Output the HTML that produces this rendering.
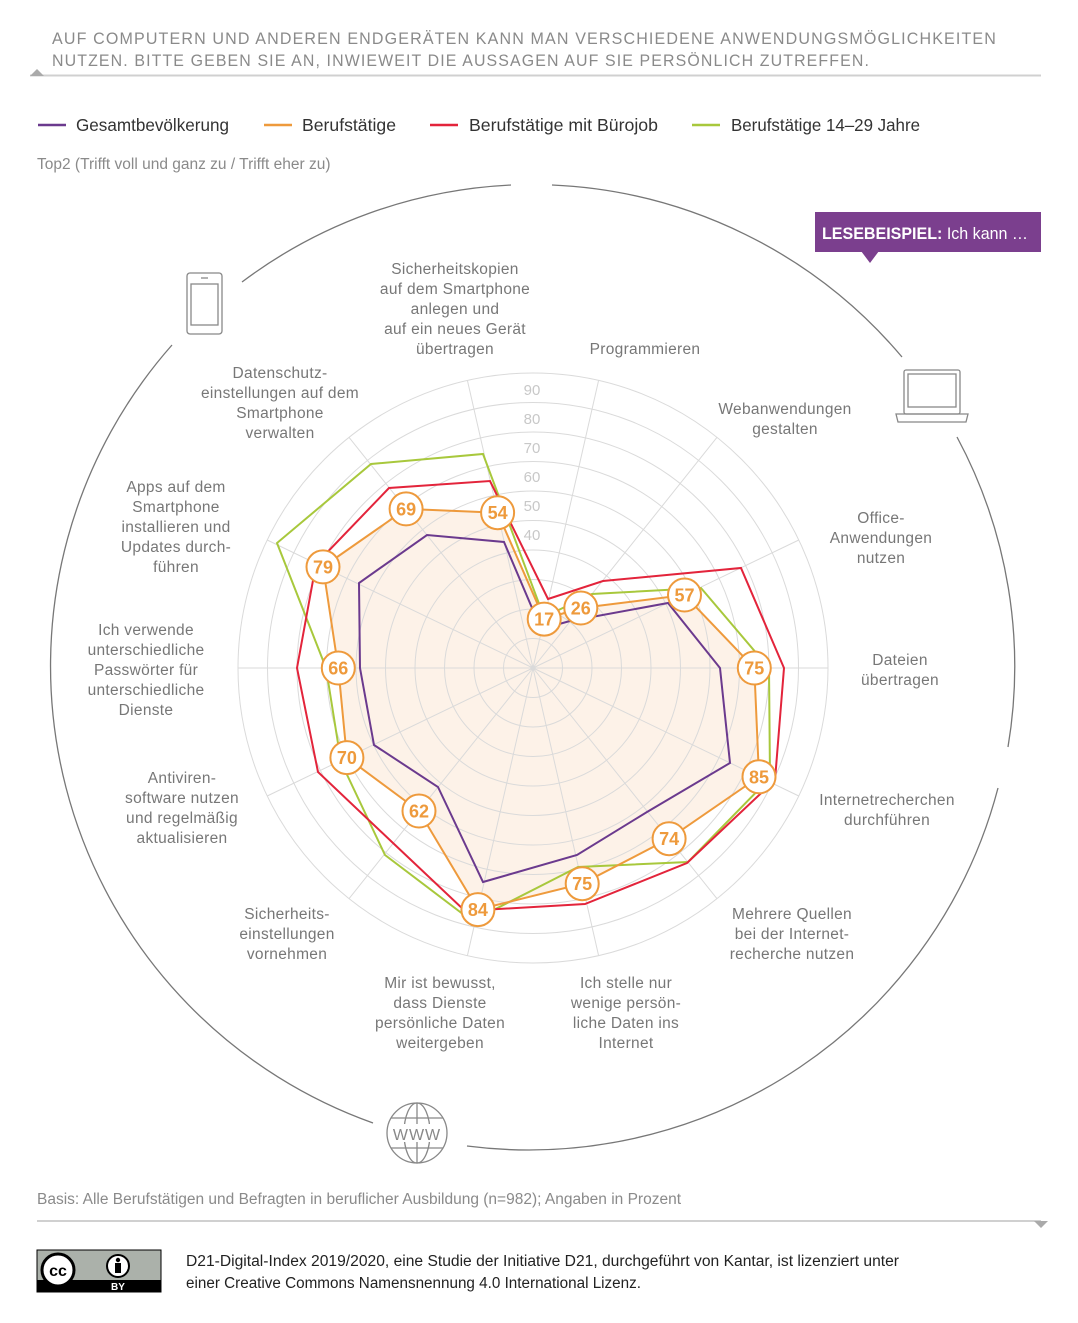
<!DOCTYPE html>
<html><head><meta charset="utf-8"><style>
html,body{margin:0;padding:0;background:#fff;}
svg{display:block;font-family:"Liberation Sans",sans-serif;}
.lab{font-size:15.5px;fill:#777;text-anchor:middle;letter-spacing:0.3px}
.tick{font-size:15px;fill:#c8c8c8;text-anchor:middle}
.val{font-size:18px;font-weight:bold;fill:#ee9a3c;text-anchor:middle}
</style></head><body>
<svg width="1078" height="1323" viewBox="0 0 1078 1323" xmlns="http://www.w3.org/2000/svg">
<rect width="1078" height="1323" fill="#fff"/>
<text x="52" y="44" font-size="17" fill="#8a8a8a" letter-spacing="1.2" textLength="945" lengthAdjust="spacingAndGlyphs">AUF COMPUTERN UND ANDEREN ENDGERÄTEN KANN MAN VERSCHIEDENE ANWENDUNGSMÖGLICHKEITEN</text>
<text x="52" y="66" font-size="17" fill="#8a8a8a" letter-spacing="1.2" textLength="818" lengthAdjust="spacingAndGlyphs">NUTZEN. BITTE GEBEN SIE AN, INWIEWEIT DIE AUSSAGEN AUF SIE PERSÖNLICH ZUTREFFEN.</text>
<line x1="30" y1="75.5" x2="1041" y2="75.5" stroke="#d0d0d0" stroke-width="2"/>
<polygon points="30,76 44,76 37,69" fill="#aaa"/>
<g font-size="17.5" fill="#333">
<line x1="38" y1="125" x2="66" y2="125" stroke="#6b3a8e" stroke-width="2.5"/><text x="76" y="131" textLength="153" lengthAdjust="spacingAndGlyphs">Gesamtbevölkerung</text>
<line x1="264" y1="125" x2="292" y2="125" stroke="#ee9a3c" stroke-width="2.5"/><text x="302" y="131" textLength="94" lengthAdjust="spacingAndGlyphs">Berufstätige</text>
<line x1="430" y1="125" x2="458" y2="125" stroke="#e3243b" stroke-width="2.5"/><text x="469" y="131" textLength="189" lengthAdjust="spacingAndGlyphs">Berufstätige mit Bürojob</text>
<line x1="692" y1="125" x2="720" y2="125" stroke="#a8c83c" stroke-width="2.5"/><text x="731" y="131" textLength="189" lengthAdjust="spacingAndGlyphs">Berufstätige 14–29 Jahre</text>
</g>
<text x="37" y="169" font-size="15.5" fill="#8a8a8a">Top2 (Trifft voll und ganz zu / Trifft eher zu)</text>
<g fill="none" stroke="#777" stroke-width="1.3">
<path d="M552,185 A485,485 0 0 1 902,357"/>
<path d="M957,437 A485,485 0 0 1 1008,747"/>
<path d="M998,788 A485,485 0 0 1 467,1146"/>
<path d="M373,1123 A485,485 0 0 1 172,345"/>
<path d="M242,282 A485,485 0 0 1 511,185"/>
</g>
<g fill="none" stroke="#888" stroke-width="1.3">
<rect x="187" y="273" width="35" height="61" rx="3"/>
<rect x="191" y="284" width="27" height="41"/>
<line x1="201" y1="278" x2="208" y2="278"/>
<rect x="904" y="370" width="56" height="44" rx="2"/>
<rect x="908" y="374" width="48" height="33"/>
<path d="M896,414 L968,414 L966,422 L898,422 Z"/>
<circle cx="417" cy="1133" r="30"/>
<ellipse cx="417" cy="1133" rx="13" ry="30"/>
<line x1="417" y1="1103" x2="417" y2="1163"/>
<path d="M391,1118 H443 M391,1148 H443"/>
</g>
<rect x="400" y="1124" width="34" height="18" fill="#fff"/>
<text x="417" y="1140" font-size="16" fill="#888" text-anchor="middle" letter-spacing="1">WWW</text>
<rect x="815" y="212" width="226" height="40" fill="#7b3f8e"/>
<polygon points="861,251 879,251 870,263" fill="#7b3f8e"/>
<text x="822" y="239" font-size="17" fill="#fff" textLength="206" lengthAdjust="spacingAndGlyphs"><tspan font-weight="bold">LESEBEISPIEL:</tspan> Ich kann …</text>
<polygon points="754.3,668 759,776.8 669.1,838.7 582.2,883.7 477.9,909.6 419,811 346.9,757.6 338.3,668 323,566.9 406.1,508.9 497.6,512.7 544.2,619.1 580.8,608 684.5,595" fill="#fdf2e8"/>
<g fill="none" stroke="#dadada" stroke-width="1">
<circle cx="533" cy="668" r="29.5"/><circle cx="533" cy="668" r="59"/><circle cx="533" cy="668" r="88.5"/>
<circle cx="533" cy="668" r="118"/><circle cx="533" cy="668" r="147.5"/><circle cx="533" cy="668" r="177"/>
<circle cx="533" cy="668" r="206.5"/><circle cx="533" cy="668" r="236"/><circle cx="533" cy="668" r="265.5"/>
<circle cx="533" cy="668" r="295"/>
<path d="M533,668 L828,668 M533,668 L798.8,796 M533,668 L716.9,898.6 M533,668 L598.6,955.6 M533,668 L467.4,955.6 M533,668 L349.1,898.6 M533,668 L267.2,796 M533,668 L238,668 M533,668 L267.2,540 M533,668 L349.1,437.4 M533,668 L467.4,380.4 M533,668 L598.6,380.4 M533,668 L716.9,437.4 M533,668 L798.8,540"/>
</g>
<g class="tick"><text x="532" y="395">90</text><text x="532" y="424">80</text><text x="532" y="453">70</text><text x="532" y="482">60</text><text x="532" y="511">50</text><text x="532" y="540">40</text></g>
<g fill="none" stroke-width="2" stroke-linejoin="miter">
<polygon stroke="#6b3a8e" points="720,668 730,763 647,812 577,855 483,882 438,787 374,745 360,668 359,583 427,535 504,542 541,629 570,621 668,603"/>
<polygon stroke="#a8c83c" points="769,668 770,778 688,862 578,867 472,921 385,855 341,762 326,668 277,543 371,464 483,454 544,617 592,594 701,588"/>
<polygon stroke="#e3243b" points="784,668 775,780 687,863 585,904 465,911 393,843 318,772 297,668 316,564 389,488 490,481 548,599 603,581 741,568"/>
<polygon stroke="#ee9a3c" points="754.3,668 759,776.8 669.1,838.7 582.2,883.7 477.9,909.6 419,811 346.9,757.6 338.3,668 323,566.9 406.1,508.9 497.6,512.7 544.2,619.1 580.8,608 684.5,595"/>
</g>
<g fill="#fff" stroke="#ee9a3c" stroke-width="2">
<circle cx="754.3" cy="668" r="16.5"/><circle cx="759" cy="776.8" r="16.5"/><circle cx="669.1" cy="838.7" r="16.5"/><circle cx="582.2" cy="883.7" r="16.5"/><circle cx="477.9" cy="909.6" r="16.5"/><circle cx="419" cy="811" r="16.5"/><circle cx="346.9" cy="757.6" r="16.5"/><circle cx="338.3" cy="668" r="16.5"/><circle cx="323" cy="566.9" r="16.5"/><circle cx="406.1" cy="508.9" r="16.5"/><circle cx="497.6" cy="512.7" r="16.5"/><circle cx="544.2" cy="619.1" r="16.5"/><circle cx="580.8" cy="608" r="16.5"/><circle cx="684.5" cy="595" r="16.5"/>
</g>
<g class="val">
<text x="754.3" y="674.5">75</text><text x="759" y="783.3">85</text><text x="669.1" y="845.2">74</text><text x="582.2" y="890.2">75</text><text x="477.9" y="916.1">84</text><text x="419" y="817.5">62</text><text x="346.9" y="764.1">70</text><text x="338.3" y="674.5">66</text><text x="323" y="573.4">79</text><text x="406.1" y="515.4">69</text><text x="497.6" y="519.2">54</text><text x="544.2" y="625.6">17</text><text x="580.8" y="614.5">26</text><text x="684.5" y="601.5">57</text>
</g>
<g class="lab">
<text x="455" y="274">Sicherheitskopien</text><text x="455" y="294">auf dem Smartphone</text><text x="455" y="314">anlegen und</text><text x="455" y="334">auf ein neues Gerät</text><text x="455" y="354">übertragen</text>
<text x="645" y="354">Programmieren</text>
<text x="785" y="414">Webanwendungen</text><text x="785" y="434">gestalten</text>
<text x="881" y="523">Office-</text><text x="881" y="543">Anwendungen</text><text x="881" y="563">nutzen</text>
<text x="900" y="665">Dateien</text><text x="900" y="685">übertragen</text>
<text x="887" y="805">Internetrecherchen</text><text x="887" y="825">durchführen</text>
<text x="792" y="919">Mehrere Quellen</text><text x="792" y="939">bei der Internet-</text><text x="792" y="959">recherche nutzen</text>
<text x="626" y="988">Ich stelle nur</text><text x="626" y="1008">wenige persön-</text><text x="626" y="1028">liche Daten ins</text><text x="626" y="1048">Internet</text>
<text x="440" y="988">Mir ist bewusst,</text><text x="440" y="1008">dass Dienste</text><text x="440" y="1028">persönliche Daten</text><text x="440" y="1048">weitergeben</text>
<text x="287" y="919">Sicherheits-</text><text x="287" y="939">einstellungen</text><text x="287" y="959">vornehmen</text>
<text x="182" y="783">Antiviren-</text><text x="182" y="803">software nutzen</text><text x="182" y="823">und regelmäßig</text><text x="182" y="843">aktualisieren</text>
<text x="146" y="635">Ich verwende</text><text x="146" y="655">unterschiedliche</text><text x="146" y="675">Passwörter für</text><text x="146" y="695">unterschiedliche</text><text x="146" y="715">Dienste</text>
<text x="176" y="492">Apps auf dem</text><text x="176" y="512">Smartphone</text><text x="176" y="532">installieren und</text><text x="176" y="552">Updates durch-</text><text x="176" y="572">führen</text>
<text x="280" y="378">Datenschutz-</text><text x="280" y="398">einstellungen auf dem</text><text x="280" y="418">Smartphone</text><text x="280" y="438">verwalten</text>
</g>
<text x="37" y="1204" font-size="15.5" fill="#8a8a8a" textLength="644" lengthAdjust="spacingAndGlyphs">Basis: Alle Berufstätigen und Befragten in beruflicher Ausbildung (n=982); Angaben in Prozent</text>
<line x1="37" y1="1221" x2="1041" y2="1221" stroke="#d0d0d0" stroke-width="2"/>
<polygon points="1034,1221 1048,1221 1041,1228" fill="#aaa"/>
<rect x="37" y="1250" width="124" height="42" fill="#abb1aa" stroke="#000" stroke-width="1"/>
<rect x="37" y="1280" width="124" height="12" fill="#000"/>
<circle cx="58" cy="1270" r="16" fill="#fff" stroke="#000" stroke-width="3"/>
<text x="58" y="1276" font-size="16" font-weight="bold" text-anchor="middle" fill="#000">cc</text>
<circle cx="118" cy="1266" r="11" fill="#fff" stroke="#000" stroke-width="2"/>
<circle cx="118" cy="1260" r="2.2" fill="#000"/>
<rect x="115" y="1263" width="6" height="10" fill="#000"/>
<text x="118" y="1290" font-size="10" font-weight="bold" text-anchor="middle" fill="#fff">BY</text>
<text x="186" y="1266" font-size="15.5" fill="#222" textLength="713" lengthAdjust="spacingAndGlyphs">D21-Digital-Index 2019/2020, eine Studie der Initiative D21, durchgeführt von Kantar, ist lizenziert unter</text>
<text x="186" y="1288" font-size="15.5" fill="#222" textLength="455" lengthAdjust="spacingAndGlyphs">einer Creative Commons Namensnennung 4.0 International Lizenz.</text>
</svg>
</body></html>
